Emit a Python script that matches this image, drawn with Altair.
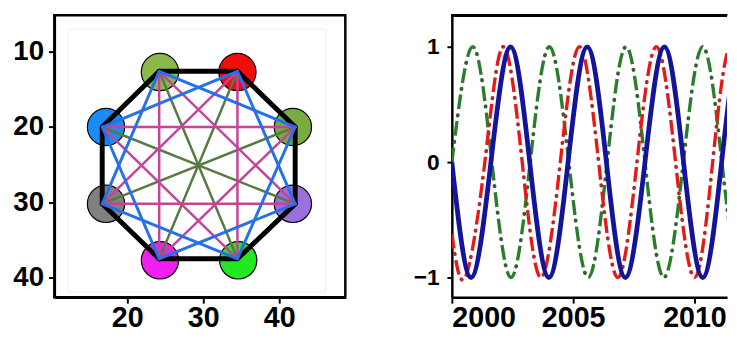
import altair as alt
import pandas as pd

# ---------------- Left panel: 8-node complete graph ----------------
node_x = [24.2, 34.5, 42.1, 42.1, 34.5, 24.2, 16.7, 16.7]
node_y = [12.6, 12.6, 20.0, 30.2, 37.5, 37.5, 30.2, 20.0]
circle_x = [24.3, 34.5, 41.8, 41.8, 34.6, 24.3, 17.2, 17.2]
circle_y = [12.7, 12.7, 20.0, 30.2, 37.7, 37.7, 30.2, 20.0]
circle_colors = ["#8ab84a", "#f20c0c", "#7aaa42", "#9b6fdc",
                 "#22e822", "#f020f0", "#808080", "#1a8cf5"]

# inner faint frame (picture border)
frame_x = [12.2]
frame_x2 = [46.1]
frame_y = [7.0]
frame_y2 = [41.9]

# ---------------- Right panel: oscillating series ----------------
blue_t = [2000.0, 2000.79, 2001.61, 2002.42, 2003.21, 2004.0, 2004.79, 2005.58,
          2006.37, 2007.15, 2007.96, 2008.76, 2009.55, 2010.34, 2011.12, 2011.9, 2012.7]
blue_v = [0.0, -1, 0, 1, 0, -1, 0, 1, 0, -1, 0, 1, 0, -1, 0, 1, 0]

red_t = [2000.0, 2000.55, 2001.36, 2002.12, 2002.9, 2003.67, 2004.47, 2005.26,
         2006.05, 2006.84, 2007.63, 2008.43, 2009.22, 2010.0, 2010.75, 2011.5, 2012.28]
red_v = [-0.62, -1, 0, 1, 0, -1, 0, 1, 0, -1, 0, 1, 0, -1, 0, 1, 0]

green_t = [2000.0, 2000.86, 2001.65, 2002.44, 2003.23, 2004.02, 2004.82, 2005.62,
           2006.4, 2007.18, 2007.96, 2008.74, 2009.54, 2010.34, 2011.13, 2011.92, 2012.7]
green_v = [0.0, 1, 0, -1, 0, 1, 0, -1, 0, 1, 0, -1, 0, 1, 0, -1, 0]

# ---------------- tables ----------------
nodes = pd.DataFrame({"x": circle_x, "y": circle_y, "c": circle_colors})
edges = []
n = len(node_x)
for i in range(n):
    for j in range(i + 1, n):
        d = min(j - i, n - (j - i))
        edges.append({"x": node_x[i], "y": node_y[i], "x2": node_x[j], "y2": node_y[j], "d": d})
edges = pd.DataFrame(edges)
frame = pd.DataFrame({"x": frame_x, "x2": frame_x2, "y": frame_y, "y2": frame_y2})

FONT = "Liberation Sans"
ax_common = dict(domainColor="black", domainWidth=2.5, tickColor="black", tickWidth=2,
                 labelColor="black", labelFont=FONT, labelFontWeight="bold",
                 grid=False, title=None)

H = 286
lx = alt.X("x:Q", scale=alt.Scale(domain=[10.4, 48.7], nice=False, zero=False),
           axis=alt.Axis(values=[20, 30, 40], labelFontSize=29, labelPadding=1,
                         tickSize=6, **ax_common))
ly = alt.Y("y:Q", scale=alt.Scale(domain=[5.15, 42.6], nice=False, zero=False, reverse=True),
           axis=alt.Axis(values=[10, 20, 30, 40], labelFontSize=28, labelPadding=5,
                         tickSize=6, **ax_common))

frame_layer = alt.Chart(frame).mark_rect(fill="white", stroke="#eeeeee", strokeWidth=1).encode(
    x=lx, y=ly, x2="x2:Q", y2="y2:Q")
circle_layer = alt.Chart(nodes).mark_circle(size=1430, opacity=1, stroke="black",
                                            strokeWidth=1.2).encode(
    x=lx, y=ly, color=alt.Color("c:N", scale=None))


def edge_layer(d, color, width):
    return alt.Chart(edges).transform_filter(alt.datum.d == d).mark_rule(
        color=color, strokeWidth=width, strokeCap="round").encode(
        x=lx, y=ly, x2="x2:Q", y2="y2:Q")


left = alt.layer(
    frame_layer,
    circle_layer,
    edge_layer(1, "#000000", 5),
    edge_layer(4, "#557a42", 2.5),
    edge_layer(3, "#c4449a", 2.5),
    edge_layer(2, "#2670ea", 3),
).properties(width=295, height=H,
             view=alt.ViewBackground(stroke="black", strokeWidth=2.5))

# right panel
def series(ts, vs, name):
    return pd.DataFrame({"t": ts, "v": vs, "s": name})

blue_df = series(blue_t, blue_v, "blue")
red_df = series(red_t, red_v, "red")
green_df = series(green_t, green_v, "green")

RW = 279
rx = alt.X("t:Q", scale=alt.Scale(domain=[2000, 2000 + RW / 24.6], nice=False, zero=False),
           axis=alt.Axis(values=[2000, 2005, 2010], format="d", labelFontSize=29,
                         labelPadding=1, tickSize=6, **ax_common))
ry = alt.Y("v:Q", scale=alt.Scale(domain=[-1.171, 1.274], nice=False, zero=False),
           axis=alt.Axis(values=[-1, 0, 1], labelFontSize=23, labelPadding=8,
                         tickSize=5, **ax_common))


def line(df, color, width, dash=None, offset=0, cap="butt"):
    kw = dict(color=color, strokeWidth=width, interpolate="natural", clip=True, strokeCap=cap)
    if dash is not None:
        kw["strokeDash"] = dash
        kw["strokeDashOffset"] = offset
    return alt.Chart(df).mark_line(**kw).encode(x=rx, y=ry, order="t:Q")


top_border = alt.Chart(blue_df).mark_rule(color="black", strokeWidth=2.5).encode(
    y=alt.value(0), x=alt.value(0), x2=alt.value(RW))

right = alt.layer(
    line(green_df, "#2a7d2a", 3.4, [15, 12]),
    line(green_df, "#355f35", 3.8, [0.5, 26.5], 6.5, "round"),
    line(red_df, "#e41a1a", 3.4, [15, 12]),
    line(red_df, "#b02a2a", 3.8, [0.5, 26.5], 6.5, "round"),
    line(blue_df, "#14149a", 4.8),
    top_border,
).properties(width=RW, height=H,
             view=alt.ViewBackground(stroke="transparent", strokeWidth=0))

chart = alt.hconcat(left, right, spacing=66).properties(
    padding={"left": 3, "top": 3, "right": 0, "bottom": -3}
)

chart.save("out.html", embed_options={"renderer": "svg", "actions": False})
